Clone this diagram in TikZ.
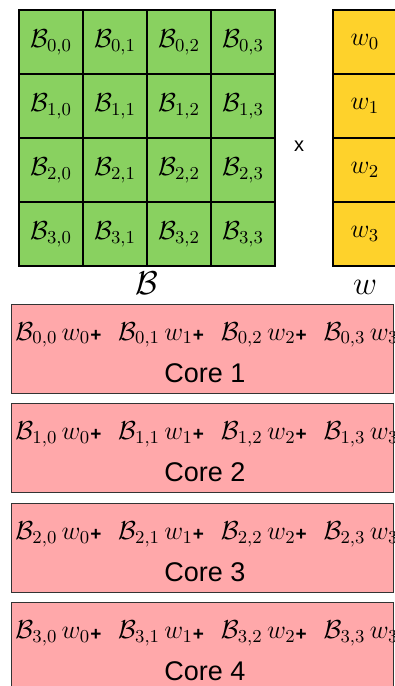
\RequirePackage{fix-cm}
\documentclass[tikz,border=0pt]{standalone}
\usepackage{fontspec}
\setsansfont{Liberation Sans}
\usetikzlibrary{matrix,positioning}

\definecolor{blockgreen}{HTML}{89D160}
\definecolor{vecyellow}{HTML}{FED22B}
\definecolor{corepink}{HTML}{FFA8AA}

\newcommand{\plussign}{{\fontsize{9.5}{10}\selectfont\sffamily\bfseries\raisebox{-0.6pt}{+}}}

\tikzset{
  cell/.style={draw=black, line width=0.7pt, minimum size=32pt, inner sep=0pt,
               font=\fontsize{13}{15}\selectfont},
  corebox/.style={draw=black!80, line width=0.5pt, fill=corepink,
                  minimum width=191pt, minimum height=44.5pt, inner sep=0pt},
  term/.style={anchor=base west, inner sep=0pt, font=\fontsize{13}{15}\selectfont},
}

\begin{document}
\begin{tikzpicture}[x=0.5pt, y=-0.5pt]
  \useasboundingbox (0,0) rectangle (395,686);
  \clip (0,0) rectangle (395,686);

  % block matrix
  \matrix (Bmat) [matrix of math nodes, ampersand replacement=\&, inner sep=0pt,
          nodes={cell, fill=blockgreen},
          row sep=-0.7pt, column sep=-0.7pt] at (147,138) {
    \mathcal{B}_{0,0} \& \mathcal{B}_{0,1} \& \mathcal{B}_{0,2} \& \mathcal{B}_{0,3} \\
    \mathcal{B}_{1,0} \& \mathcal{B}_{1,1} \& \mathcal{B}_{1,2} \& \mathcal{B}_{1,3} \\
    \mathcal{B}_{2,0} \& \mathcal{B}_{2,1} \& \mathcal{B}_{2,2} \& \mathcal{B}_{2,3} \\
    \mathcal{B}_{3,0} \& \mathcal{B}_{3,1} \& \mathcal{B}_{3,2} \& \mathcal{B}_{3,3} \\
  };

  % vector
  \matrix (wmat) [matrix of math nodes, ampersand replacement=\&, inner sep=0pt,
          nodes={cell, fill=vecyellow},
          row sep=-0.7pt] at (365,138) {
    w_0 \\
    w_1 \\
    w_2 \\
    w_3 \\
  };

  \node[font=\fontsize{10}{12}\selectfont\sffamily] (times) at (299,146) {x};

  \node[below=2pt of Bmat, inner sep=0pt, font=\fontsize{16.5}{18}\selectfont] (Blabel) {$\mathcal{B}$};
  \node[anchor=base, inner sep=0pt, font=\fontsize{16.5}{18}\selectfont] (wlabel)
    at (wmat.south |- Blabel.base) {$w$};

  % one row per core
  \foreach \i in {0,...,3} {
    \pgfmathtruncatemacro{\corenum}{\i+1}
    \node[corebox] (core\i) at (202, 348.5+99.6*\i) {};
    \foreach \j in {0,...,3}
      \node[term] (term\i\j) at (15+102.7*\j, 340+99.6*\i) {$\mathcal{B}_{\i,\j}\,w_{\j}$\plussign};
    \node[anchor=base, inner sep=0pt, font=\fontsize{13.5}{16}\selectfont\sffamily] (corelabel\i)
      at (205, 382+99.6*\i) {Core \corenum};
  }
\end{tikzpicture}
\end{document}
